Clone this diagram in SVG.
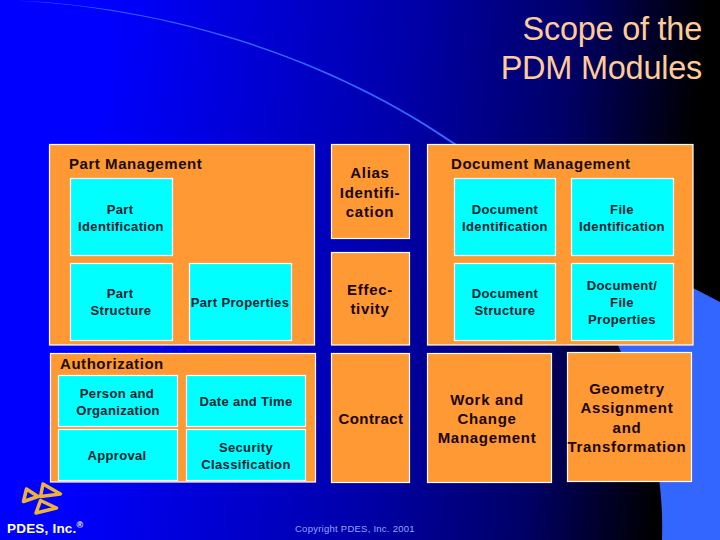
<svg xmlns="http://www.w3.org/2000/svg" width="720" height="540" viewBox="0 0 720 540">
<style>
.o{fill:#FF9933;stroke:#FFFFFF;stroke-width:1.2}
.c{fill:#00FFFF;stroke:#FFFFFF;stroke-width:1.2}
text{font-family:"Liberation Sans",Arial,sans-serif}
.t{font-size:13px;font-weight:bold;fill:#00222E;text-anchor:middle;letter-spacing:.35px}
.h{font-size:15px;font-weight:bold;fill:#1A0D00;letter-spacing:.55px}
.b{font-size:15px;font-weight:bold;fill:#1A0500;text-anchor:middle;letter-spacing:.7px}
.title{font-size:32.5px;fill:#FFCC99;text-anchor:end;letter-spacing:-.25px}
</style>
<defs>
<linearGradient id="bg" gradientUnits="userSpaceOnUse" x1="110" y1="0" x2="703" y2="60">
<stop offset="0" stop-color="#0000FF"/><stop offset=".5" stop-color="#0000AA"/><stop offset=".78" stop-color="#000066"/><stop offset="1" stop-color="#000000"/>
</linearGradient>
</defs>
<rect width="720" height="540" fill="url(#bg)"/>
<path id="swoosh" d="M0 0C150 3 320 50 455 143L693 288L720 302V540H662C664 470 650 420 618 345C570 265 520 210 455 145.500C320 51.500 150 4.500 0 0Z" fill="#3366FF"/>
<g id="title"><text class="title" x="702" y="40">Scope of the</text><text class="title" x="702" y="79">PDM Modules</text></g>
<g id="part-management"><rect class="o" x="49.500" y="144.500" width="265" height="200.500"/><text class="h" x="69" y="169">Part Management</text></g>
<g id="part-identification"><rect class="c" x="70.500" y="178.500" width="102" height="77"/><text class="t" x="120" y="214">Part</text><text class="t" x="121" y="231">Identification</text></g>
<g id="part-structure"><rect class="c" x="70.500" y="263.500" width="102" height="77"/><text class="t" x="120" y="298">Part</text><text class="t" x="121" y="315">Structure</text></g>
<g id="part-properties"><rect class="c" x="189.500" y="263.500" width="102" height="77"/><text class="t" x="240" y="307">Part Properties</text></g>
<g id="alias"><rect class="o" x="331.500" y="144.500" width="78" height="94"/><text class="b" x="370" y="178">Alias</text><text class="b" x="370" y="198">Identifi-</text><text class="b" x="370" y="217">cation</text></g>
<g id="effectivity"><rect class="o" x="331.500" y="252.500" width="78" height="92.500"/><text class="b" x="370" y="295">Effec-</text><text class="b" x="370" y="314">tivity</text></g>
<g id="document-management"><rect class="o" x="427.500" y="144.500" width="265.500" height="200.500"/><text class="h" x="451" y="169">Document Management</text></g>
<g id="document-identification"><rect class="c" x="454.500" y="178.500" width="101" height="77"/><text class="t" x="505" y="214">Document</text><text class="t" x="505" y="231">Identification</text></g>
<g id="file-identification"><rect class="c" x="571.500" y="178.500" width="102" height="77"/><text class="t" x="622" y="214">File</text><text class="t" x="622" y="231">Identification</text></g>
<g id="document-structure"><rect class="c" x="454.500" y="263.500" width="101" height="77"/><text class="t" x="505" y="298">Document</text><text class="t" x="505" y="315">Structure</text></g>
<g id="document-file-properties"><rect class="c" x="571.500" y="263.500" width="102" height="77"/><text class="t" x="622" y="290">Document/</text><text class="t" x="622" y="307">File</text><text class="t" x="622" y="324">Properties</text></g>
<g id="authorization"><rect class="o" x="50.500" y="353.500" width="265" height="128.500"/><text class="h" x="60" y="369">Authorization</text></g>
<g id="person-organization"><rect class="c" x="58.500" y="375.500" width="119" height="51"/><text class="t" x="117" y="398">Person and</text><text class="t" x="118" y="415">Organization</text></g>
<g id="date-time"><rect class="c" x="186.500" y="375.500" width="119" height="51"/><text class="t" x="246" y="406">Date and Time</text></g>
<g id="approval"><rect class="c" x="58.500" y="429.500" width="119" height="51"/><text class="t" x="117" y="460">Approval</text></g>
<g id="security-classification"><rect class="c" x="186.500" y="429.500" width="119" height="51"/><text class="t" x="246" y="452">Security</text><text class="t" x="246" y="469">Classification</text></g>
<g id="contract"><rect class="o" x="331.500" y="353.500" width="78" height="129"/><text class="b" x="371" y="424" style="letter-spacing:.4px">Contract</text></g>
<g id="work-change"><rect class="o" x="427.500" y="353.500" width="124" height="129"/><text class="b" x="487" y="405">Work and</text><text class="b" x="487" y="424">Change</text><text class="b" x="487" y="443">Management</text></g>
<g id="geometry"><rect class="o" x="567.500" y="352.500" width="124" height="129"/><text class="b" x="627" y="394">Geometry</text><text class="b" x="627" y="413">Assignment</text><text class="b" x="627" y="433">and</text><text class="b" x="627" y="452">Transformation</text></g>
<g id="logo" fill="none" stroke="#EDB238" stroke-width="3.500" stroke-linejoin="round">
<path d="M26.500 489L38 496.500L23.500 501.500Z"/><path d="M43 484L60.500 494L40.500 496.500Z"/><path d="M40.500 500.500L56.500 508L36 513Z"/></g>
<g id="pdes"><text x="7" y="533" font-size="13.500" font-weight="bold" fill="#FFFFFF" letter-spacing=".2">PDES, Inc.</text><text x="76.500" y="528" font-size="9" font-weight="bold" fill="#FFFFFF">®</text></g>
<text id="copyright" x="295" y="532" font-size="9.500" fill="#8FA8FF" letter-spacing=".25">Copyright PDES, Inc. 2001</text>
</svg>
